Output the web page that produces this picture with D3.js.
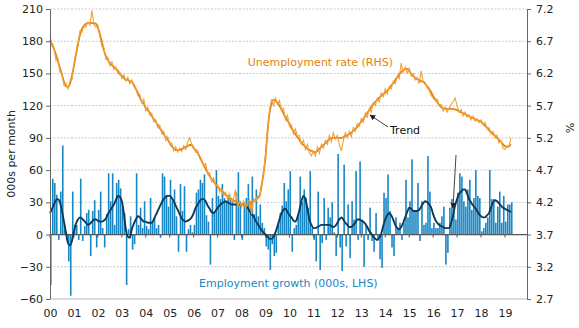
<!DOCTYPE html>
<html>
<head>
<meta charset="utf-8">
<script src="https://cdn.jsdelivr.net/npm/d3@7"></script>
<style>
  body { margin: 0; background: #fff; }
  text { font-family: "DejaVu Sans", Verdana, sans-serif; }
</style>
</head>
<body>
<script>

// year labels on the bottom axis
var yearLabels = ['00','01','02','03','04','05','06','07','08','09',
                  '10','11','12','13','14','15','16','17','18','19']

var leftTicks = [-60, -30, 0, 30, 60, 90, 120, 150, 180, 210]
var rightTicks = [2.7, 3.2, 3.7, 4.2, 4.7, 5.2, 5.7, 6.2, 6.7, 7.2]

// monthly employment change, 000s (Jan 2000 - Apr 2019)
var empGrowth = [
  -47, 52, 48, 37, -5, 40, 83, 8, -5, -25, -57, 40,
  9, 9, -5, 52, -6, 8, 20, 23, -20, 22, 32, -12,
  23, 40, 6, -12, 19, 57, 31, 57, 9, 48, 51, 43,
  25, 20, -47, 5, 17, -14, -9, 57, 9, 25, 6, 31,
  8, 5, 34, 12, 16, 6, 9, -3, 57, 54, 37, 26,
  51, 31, 42, 17, -16, 47, 22, 45, -16, 5, 9, 2,
  9, 39, 42, 51, 48, 56, 18, 12, -28, 34, 20, 60,
  36, 33, 47, 34, 31, 37, 34, 31, -5, 39, 58, 31,
  -5, 30, 34, 47, 31, 54, 19, 42, 17, 28, 11, 6,
  -11, -14, -33, -9, -20, -17, 9, 20, 27, 48, 31, 42,
  59, -16, 6, 9, 17, 54, 30, 42, 34, 25, 59, 6,
  -5, -25, 40, -33, -8, 34, -5, 25, 16, 30, 2, -20,
  75, -12, -34, 65, -11, 28, -22, 31, 14, 59, -5, 68,
  14, -30, 9, -5, 25, -6, -16, 20, -5, -23, -31, 39,
  34, 56, 22, -12, -20, 16, 5, 11, -5, 11, 51, 16,
  31, 70, 22, 22, 48, -6, 31, 9, 11, 73, 40, 6,
  11, 6, 6, 11, 17, 26, -28, -17, 25, 33, 28, 14,
  39, 57, 54, 31, 26, 42, 51, 23, 34, 60, 36, 34,
  3, 6, 11, 16, 60, 33, 33, 11, 26, 40, 11, 36,
  12, 28, 28, 30
]

// employment trend, 000s
var empTrend = [
  20, 24, 28, 32, 33, 30, 22, 12, 2, -8, -10, -6,
  3, 10, 14, 16, 15, 13, 11, 9, 10, 12, 14, 14,
  13, 12, 12, 13, 15, 19, 22, 25, 28, 32, 36, 35,
  31, 20, 5, -2, -3, 5, 10, 14, 17, 16, 14, 12,
  12, 11, 11, 11, 14, 18, 22, 26, 30, 33, 35, 36,
  36, 34, 31, 27, 23, 19, 15, 13, 12, 13, 14, 16,
  20, 25, 28, 31, 33, 33, 31, 27, 24, 21, 20, 22,
  25, 27, 29, 30, 31, 30, 29, 28, 28, 28, 28, 28,
  28, 28, 27, 25, 22, 19, 17, 13, 10, 7, 4, 2,
  0, -2, -4, -4, -2, 2, 8, 14, 20, 23, 24, 21,
  18, 16, 13, 12, 16, 23, 31, 36, 33, 24, 14, 9,
  6, 6, 7, 8, 9, 9, 9, 9, 9, 8, 7, 8,
  11, 14, 16, 14, 11, 9, 7, 7, 9, 11, 14, 14,
  13, 12, 10, 7, 3, 1, -2, -4, -5, -3, 1, 8,
  14, 18, 20, 18, 14, 9, 6, 5, 7, 11, 16, 21,
  25, 24, 22, 22, 22, 23, 26, 29, 31, 30, 28, 25,
  19, 14, 11, 9, 8, 7, 6, 6, 6, 11, 18, 27,
  33, 38, 40, 42, 42, 38, 33, 30, 27, 25, 22, 19,
  17, 16, 16, 18, 20, 25, 30, 32, 31, 29, 27, 25,
  24, 23, 22, 21
]

// unemployment rate, %
var unempRate = [
  6.80, 6.62, 6.60, 6.40, 6.42, 6.22, 6.20, 6.02, 6.05, 5.96, 6.08, 6.10,
  6.35, 6.52, 6.62, 6.86, 6.84, 6.93, 6.92, 7.00, 6.95, 7.18, 6.96, 6.92,
  6.95, 6.78, 6.62, 6.60, 6.42, 6.45, 6.32, 6.38, 6.26, 6.30, 6.20, 6.22,
  6.12, 6.18, 6.08, 6.14, 6.04, 6.10, 6.00, 5.98, 5.86, 5.88, 5.74, 5.80,
  5.62, 5.68, 5.55, 5.58, 5.45, 5.48, 5.36, 5.40, 5.26, 5.30, 5.16, 5.22,
  5.10, 5.12, 5.00, 5.06, 4.98, 5.04, 4.99, 5.08, 5.02, 5.14, 5.20, 5.10,
  5.06, 4.98, 5.00, 4.88, 4.86, 4.76, 4.80, 4.64, 4.66, 4.52, 4.58, 4.46,
  4.48, 4.36, 4.42, 4.30, 4.36, 4.24, 4.33, 4.20, 4.26, 4.40, 4.12, 4.22,
  4.12, 4.22, 4.10, 4.20, 4.24, 4.02, 4.26, 4.20, 4.30, 4.28, 4.46, 4.64,
  4.95, 5.28, 5.62, 5.80, 5.70, 5.82, 5.72, 5.78, 5.62, 5.66, 5.48, 5.55,
  5.38, 5.40, 5.26, 5.34, 5.22, 5.24, 5.10, 5.16, 5.02, 5.10, 4.96, 4.92,
  5.00, 4.92, 5.06, 4.96, 5.10, 5.04, 5.16, 5.10, 5.24, 5.14, 5.28, 5.18,
  5.24, 5.10, 5.00, 5.16, 5.28, 5.20, 5.30, 5.22, 5.36, 5.30, 5.42, 5.38,
  5.50, 5.44, 5.58, 5.52, 5.66, 5.60, 5.74, 5.70, 5.82, 5.76, 5.90, 5.84,
  5.96, 5.88, 6.00, 5.96, 6.08, 6.04, 6.16, 6.12, 6.36, 6.22, 6.30, 6.20,
  6.28, 6.16, 6.20, 6.10, 6.14, 6.04, 6.24, 6.08, 6.06, 5.98, 5.94, 5.86,
  5.82, 5.78, 5.80, 5.70, 5.72, 5.62, 5.68, 5.60, 5.66, 5.72, 5.76, 5.82,
  5.70, 5.60, 5.64, 5.54, 5.60, 5.52, 5.56, 5.48, 5.54, 5.46, 5.50, 5.44,
  5.48, 5.40, 5.44, 5.34, 5.36, 5.26, 5.30, 5.20, 5.24, 5.12, 5.16, 5.04,
  5.02, 5.08, 5.06, 5.20
]

// unemployment rate trend, %
var unempTrend = [
  6.72, 6.66, 6.58, 6.49, 6.39, 6.28, 6.18, 6.07, 6.00, 5.99, 6.04, 6.16,
  6.32, 6.49, 6.66, 6.80, 6.89, 6.94, 6.97, 6.98, 6.98, 6.98, 6.98, 6.97,
  6.91, 6.81, 6.69, 6.56, 6.47, 6.41, 6.36, 6.33, 6.30, 6.27, 6.24, 6.19,
  6.16, 6.13, 6.10, 6.10, 6.08, 6.07, 6.02, 5.96, 5.90, 5.83, 5.77, 5.73,
  5.66, 5.63, 5.59, 5.54, 5.49, 5.45, 5.40, 5.35, 5.31, 5.26, 5.21, 5.17,
  5.12, 5.07, 5.04, 5.01, 5.01, 5.01, 5.03, 5.04, 5.06, 5.07, 5.09, 5.09,
  5.04, 5.01, 4.97, 4.91, 4.84, 4.78, 4.72, 4.66, 4.61, 4.56, 4.52, 4.48,
  4.44, 4.41, 4.38, 4.35, 4.32, 4.29, 4.27, 4.25, 4.23, 4.21, 4.19, 4.18,
  4.17, 4.16, 4.16, 4.17, 4.18, 4.20, 4.22, 4.24, 4.26, 4.30, 4.45, 4.65,
  4.90, 5.30, 5.59, 5.73, 5.79, 5.78, 5.74, 5.70, 5.64, 5.58, 5.52, 5.47,
  5.42, 5.35, 5.31, 5.26, 5.21, 5.17, 5.12, 5.09, 5.06, 5.03, 5.01, 5.00,
  4.98, 4.98, 5.00, 5.03, 5.06, 5.09, 5.12, 5.15, 5.18, 5.20, 5.20, 5.20,
  5.20, 5.20, 5.20, 5.21, 5.23, 5.24, 5.26, 5.28, 5.31, 5.34, 5.37, 5.42,
  5.45, 5.49, 5.54, 5.59, 5.63, 5.68, 5.73, 5.76, 5.79, 5.82, 5.85, 5.88,
  5.90, 5.93, 5.97, 6.01, 6.05, 6.10, 6.14, 6.19, 6.22, 6.25, 6.27, 6.27,
  6.24, 6.19, 6.16, 6.13, 6.11, 6.10, 6.08, 6.07, 6.04, 6.00, 5.96, 5.91,
  5.85, 5.80, 5.76, 5.71, 5.68, 5.66, 5.65, 5.65, 5.65, 5.65, 5.65, 5.64,
  5.63, 5.61, 5.60, 5.58, 5.57, 5.55, 5.54, 5.52, 5.51, 5.49, 5.48, 5.46,
  5.45, 5.42, 5.39, 5.36, 5.32, 5.29, 5.26, 5.23, 5.20, 5.17, 5.14, 5.10,
  5.07, 5.06, 5.07, 5.10
]

var startYear = 2000

var width = 579,
    height = 328

var svg = d3.select('body').append('svg')
            .attr('width', width)
            .attr('height', height)

var x = d3.scaleLinear()
    .domain([2000, 2019.92])
    .range([50, 527])

var y = d3.scaleLinear()
    .domain([-60, 210])
    .range([299, 9])

var yR = d3.scaleLinear()
    .domain([2.7, 7.2])
    .range([299, 9])

var dateOf = (i) => startYear + i / 12

// gridlines
svg.append('g')
  .selectAll('line')
  .data(leftTicks.filter((d) => d != 0 && d != -60))
  .enter()
  .append('line')
    .attr('x1', 50).attr('x2', 527)
    .attr('y1', (d) => y(d)).attr('y2', (d) => y(d))
    .attr('stroke', '#c9c9c9')
    .attr('stroke-dasharray', '2,1.5')

// bottom line at -60
svg.append('line')
  .attr('x1', 50).attr('x2', 527)
  .attr('y1', y(-60)).attr('y2', y(-60))
  .attr('stroke', '#d0d0d0')
  .attr('stroke-width', 1.5)

// employment bars
svg.append('g')
  .selectAll('rect')
  .data(empGrowth)
  .enter()
  .append('rect')
    .attr('x', (d, i) => x(dateOf(i)))
    .attr('width', 1.6)
    .attr('y', (d) => y(Math.max(0, d)))
    .attr('height', (d) => Math.abs(y(d) - y(0)))
    .attr('fill', '#1a87c5')

// zero line + year ticks
svg.append('line')
  .attr('x1', 50).attr('x2', 527)
  .attr('y1', y(0)).attr('y2', y(0))
  .attr('stroke', '#555')
  .attr('stroke-width', 1.3)

svg.append('g')
  .selectAll('line')
  .data(yearLabels)
  .enter()
  .append('line')
    .attr('x1', (d, i) => x(startYear + i)).attr('x2', (d, i) => x(startYear + i))
    .attr('y1', y(0)).attr('y2', y(0) + 3)
    .attr('stroke', '#555')

// employment trend
var empLine = d3.line()
    .x((d, i) => x(dateOf(i)))
    .y((d) => y(d))
    .curve(d3.curveMonotoneX)

svg.append('path')
  .datum(empTrend)
  .attr('d', empLine)
  .attr('fill', 'none')
  .attr('stroke', '#0e3a5a')
  .attr('stroke-width', 1.9)

// unemployment raw and trend
var urLine = d3.line()
    .x((d, i) => x(dateOf(i)))
    .y((d) => yR(d))

svg.append('path')
  .datum(unempTrend)
  .attr('d', urLine.curve(d3.curveMonotoneX))
  .attr('fill', 'none')
  .attr('stroke', '#e5820a')
  .attr('stroke-width', 1.8)

svg.append('path')
  .datum(unempRate)
  .attr('d', urLine.curve(d3.curveLinear))
  .attr('fill', 'none')
  .attr('stroke', '#f0a13a')
  .attr('stroke-width', 1.1)

// axes
var leftAxis = svg.append('g')
  .attr('transform', 'translate(50,0)')
  .call(d3.axisLeft(y).tickValues(leftTicks).tickSize(4).tickSizeOuter(0).tickPadding(3))

var rightAxis = svg.append('g')
  .attr('transform', 'translate(527,0)')
  .call(d3.axisRight(yR).tickValues(rightTicks).tickSize(4).tickSizeOuter(0).tickPadding(5)
          .tickFormat(d3.format('.1f')))

var bottomAxis = svg.append('g')
  .attr('transform', `translate(0,${y(-60)})`)
  .call(d3.axisBottom(x).tickValues(d3.range(20).map((i) => startYear + i))
          .tickFormat((d, i) => yearLabels[i]).tickSize(0).tickPadding(10))

bottomAxis.select('.domain').remove()

svg.selectAll('.tick text')
  .attr('fill', '#222')
  .style('font-size', '11px')
  .style('font-family', '"DejaVu Sans", Verdana, sans-serif')

leftAxis.selectAll('path, line').attr('stroke', '#666')
rightAxis.selectAll('path, line').attr('stroke', '#666')

// axis titles
svg.append('text')
  .attr('transform', 'translate(15,154) rotate(-90)')
  .attr('text-anchor', 'middle')
  .style('font-size', '11px')
  .attr('fill', '#222')
  .text('000s per month')

svg.append('text')
  .attr('transform', 'translate(566,128) rotate(90)')
  .attr('text-anchor', 'middle')
  .style('font-size', '11px')
  .attr('fill', '#222')
  .text('%')

// series labels
svg.append('text')
  .attr('x', 393).attr('y', 66)
  .attr('text-anchor', 'end')
  .style('font-size', '11px')
  .attr('fill', '#e5820a')
  .text('Unemployment rate (RHS)')

svg.append('text')
  .attr('x', 199).attr('y', 287)
  .style('font-size', '11px')
  .attr('fill', '#1a87c5')
  .text('Employment growth (000s, LHS)')

// trend annotation
svg.append('defs').append('marker')
  .attr('id', 'arrow')
  .attr('viewBox', '0 0 10 10')
  .attr('refX', 9).attr('refY', 5)
  .attr('markerWidth', 6).attr('markerHeight', 6)
  .attr('orient', 'auto')
  .append('path')
    .attr('d', 'M0,0 L10,5 L0,10 z')
    .attr('fill', '#222')

svg.append('text')
  .attr('x', 390).attr('y', 134)
  .style('font-size', '11px')
  .attr('fill', '#111')
  .text('Trend')

svg.append('line')
  .attr('x1', 388).attr('y1', 127)
  .attr('x2', 370).attr('y2', 115)
  .attr('stroke', '#444')
  .attr('marker-end', 'url(#arrow)')

svg.append('line')
  .attr('x1', 456).attr('y1', 155)
  .attr('x2', 453).attr('y2', 208)
  .attr('stroke', '#444')
  .attr('marker-end', 'url(#arrow)')

</script>
</body>
</html>
